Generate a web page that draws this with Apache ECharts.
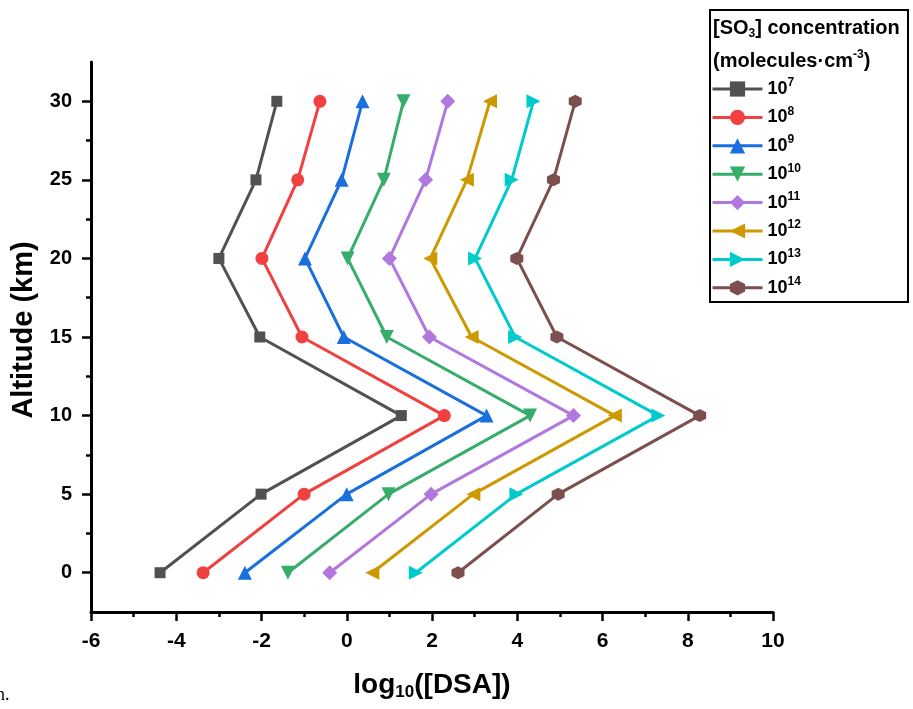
<!DOCTYPE html>
<html>
<head>
<meta charset="utf-8">
<title>log10([DSA]) vs altitude</title>
<script src="https://cdn.jsdelivr.net/npm/echarts@6/dist/echarts.min.js"></script>
<style>
  html, body { margin: 0; padding: 0; background: #fff; }
  #chart { width: 913px; height: 709px; }
</style>
</head>
<body>
<div id="chart"></div>
<script>
// altitude levels (km)
const altitudes = [0, 5, 10, 15, 20, 25, 30];

// log10([DSA]) at each altitude, one list per [SO3] concentration
const dsa1e7  = [-4.38, -2.01, 1.28, -2.04, -3.00, -2.13, -1.64];
const dsa1e8  = [-3.37, -1.00, 2.29, -1.05, -1.99, -1.15, -0.63];
const dsa1e9  = [-2.39, 0.00, 3.28, -0.07, -0.98, -0.12, 0.37];
const dsa1e10 = [-1.38, 0.98, 4.30, 0.94, 0.02, 0.87, 1.33];
const dsa1e11 = [-0.40, 1.98, 5.32, 1.94, 1.00, 1.85, 2.37];
const dsa1e12 = [0.60, 2.97, 6.29, 2.93, 1.96, 2.82, 3.36];
const dsa1e13 = [1.62, 3.98, 7.31, 3.95, 3.01, 3.87, 4.38];
const dsa1e14 = [2.61, 4.96, 8.28, 4.93, 3.99, 4.85, 5.36];

const exponents = [7, 8, 9, 10, 11, 12, 13, 14];
const seriesValues = [dsa1e7, dsa1e8, dsa1e9, dsa1e10, dsa1e11, dsa1e12, dsa1e13, dsa1e14];

// tick positions on the altitude axis
const yMajorTicks = [0, 5, 10, 15, 20, 25, 30];
const yMinorTicks = [2.5, 7.5, 12.5, 17.5, 22.5, 27.5];

// Origin-like palette and markers
const colors = ['#515151', '#F14040', '#1A6FDF', '#37AD6B', '#B177DE', '#CC9900', '#00CBCC', '#7D4E4E'];
const hexagon = 'path://M0,-1 L0.866,-0.5 L0.866,0.5 L0,1 L-0.866,0.5 L-0.866,-0.5 Z';
const symbols = ['rect', 'circle', 'triangle', 'triangle', 'diamond', 'triangle', 'triangle', hexagon];
const rotations = [0, 0, 0, 180, 0, 90, -90, 0];
const sizes = [11, 13, 14, 14, 15, 14, 14, 13];

const FONT = '"Liberation Sans", Arial, sans-serif';

const series = seriesValues.map((vals, i) => ({
  name: '10^' + exponents[i],
  type: 'line',
  data: vals.map((v, k) => [v, altitudes[k]]),
  symbol: symbols[i],
  symbolRotate: rotations[i],
  symbolSize: sizes[i],
  showAllSymbol: true,
  itemStyle: { color: colors[i] },
  lineStyle: { color: colors[i], width: 3 },
  emphasis: { disabled: true }
}));

const chart = echarts.init(document.getElementById('chart'));

function richSet(size) {
  return {
    b: { fontFamily: FONT, fontWeight: 'bold', fontSize: size, color: '#000', lineHeight: 24 },
    sup: { fontFamily: FONT, fontWeight: 'bold', fontSize: 12, color: '#000', lineHeight: 13, verticalAlign: 'top' },
    sub: { fontFamily: FONT, fontWeight: 'bold', fontSize: 12, color: '#000', lineHeight: 10, verticalAlign: 'bottom' }
  };
}

chart.setOption({
  animation: false,
  backgroundColor: '#fff',
  grid: { left: 91, right: 140, top: 62, bottom: 97, containLabel: false },
  xAxis: {
    type: 'value',
    min: -6,
    max: 10,
    interval: 2,
    name: '{b|log}{sub|10}{b|([DSA])}',
    nameLocation: 'middle',
    nameGap: 57,
    nameTextStyle: {
      rich: {
        b: { fontFamily: FONT, fontWeight: 'bold', fontSize: 28, color: '#000', lineHeight: 32 },
        sub: { fontFamily: FONT, fontWeight: 'bold', fontSize: 17, color: '#000', lineHeight: 14, verticalAlign: 'bottom' }
      }
    },
    axisLine: { onZero: false, lineStyle: { color: '#000', width: 3 } },
    axisTick: { length: 9, lineStyle: { color: '#000', width: 2.5 } },
    minorTick: { show: true, splitNumber: 2, length: 5, lineStyle: { color: '#000', width: 2.5 } },
    splitLine: { show: false },
    axisLabel: { color: '#000', fontFamily: FONT, fontWeight: 'bold', fontSize: 21, margin: 19 }
  },
  yAxis: [
    {
      type: 'value',
      min: -2.5,
      max: 32.5,
      name: 'Altitude (km)',
      nameLocation: 'middle',
      nameGap: 47,
      nameTextStyle: { fontFamily: FONT, fontWeight: 'bold', fontSize: 29, color: '#000', padding: [0, 0, 0, 14] },
      axisLine: { show: true, onZero: false, lineStyle: { color: '#000', width: 3 } },
      axisTick: { show: true, customValues: yMajorTicks, length: 9, lineStyle: { color: '#000', width: 2.5 } },
      splitLine: { show: false },
      axisLabel: { customValues: yMajorTicks, color: '#000', fontFamily: FONT, fontWeight: 'bold', fontSize: 20, margin: 19 }
    },
    {
      type: 'value',
      min: -2.5,
      max: 32.5,
      position: 'left',
      axisLine: { show: false, onZero: false },
      axisTick: { show: true, customValues: yMinorTicks, length: 5, lineStyle: { color: '#000', width: 2.5 } },
      splitLine: { show: false },
      axisLabel: { show: false }
    }
  ],
  legend: {
    orient: 'vertical',
    left: 711,
    top: 77,
    itemWidth: 50,
    itemHeight: 19,
    itemGap: 7.4,
    padding: 0,
    selectedMode: false,
    lineStyle: { width: 3 },
    formatter: name => '{b|10}{sup|' + name.split('^')[1] + '}',
    textStyle: { rich: richSet(18), padding: [0, 0, 0, 0] }
  },
  graphic: [
    {
      type: 'rect',
      shape: { x: 710, y: 10, width: 198, height: 292 },
      style: { fill: 'none', stroke: '#000', lineWidth: 2 },
      silent: true
    },
    {
      type: 'text',
      x: 713,
      y: 16,
      style: { text: '{b|[SO}{sub|3}{b|] concentration}', rich: richSet(20) },
      silent: true
    },
    {
      type: 'text',
      x: 713,
      y: 49,
      style: { text: '{b|(molecules·cm}{sup|-3}{b|)}', rich: richSet(20) },
      silent: true
    },
    {
      type: 'text',
      x: -4,
      y: 686,
      style: { text: 'n.', font: '18px "Liberation Serif", serif', fill: '#000' },
      silent: true
    }
  ],
  series: series
});
</script>
</body>
</html>
